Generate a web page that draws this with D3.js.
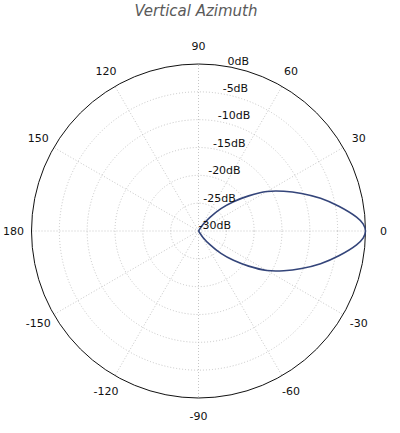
<!DOCTYPE html>
<html>
<head>
<meta charset="utf-8">
<script src="https://cdn.jsdelivr.net/npm/d3@7"></script>
<style>
  html, body { margin: 0; padding: 0; background: #fff; }
  svg text { font-family: "DejaVu Sans", sans-serif; }
</style>
</head>
<body>
<svg id="chart"></svg>
<script>
const [w, h] = [400, 433];
const [cx, cy, R] = [198.5, 231, 167];

// angles in degrees (counter-clockwise from 0), response in dB
const angles = [-180, -150, -120, -90, -60, -55, -50, -45, -40, -35, -30, -25, -20, -15, -10, -5, -2.5,
                0, 2.5, 5, 10, 15, 20, 25, 30, 35, 40, 45, 50, 55, 60, 90, 120, 150, 180];
const gain = [-30, -30, -30, -30, -30, -28.6, -26.8, -24.3, -21.8, -19.0, -15.8, -13.1, -10.3, -7.3, -4.4, -1.5, -0.4,
              0, -0.4, -1.5, -4.4, -7.3, -10.3, -13.1, -15.8, -19.0, -21.8, -24.3, -26.8, -28.6, -30, -30, -30, -30, -30];
const angleTicks = [0, 30, 60, 90, 120, 150, 180, -150, -120, -90, -60, -30];
const dbTicks = [0, -5, -10, -15, -20, -25, -30];
const title = 'Vertical Azimuth';

const svg = d3.select('#chart')
    .attr('width', w)
    .attr('height', h);

const rScale = d3.scaleLinear()
    .domain([-30, 0])
    .range([0, R]);

const rad = d => d * Math.PI / 180;

const g = svg.append('g')
    .attr('transform', `translate(${cx}, ${cy})`);

// grid rings
g.selectAll('circle.grid')
    .data(dbTicks.filter(d => d > -30 && d < 0))
    .enter()
    .append('circle')
        .attr('class', 'grid')
        .attr('r', d => rScale(d))
        .attr('fill', 'none')
        .attr('stroke', '#b8b8b8')
        .attr('stroke-width', 0.8)
        .attr('stroke-dasharray', '1,2');

// radial grid lines
g.selectAll('line.grid')
    .data(angleTicks)
    .enter()
    .append('line')
        .attr('x1', 0)
        .attr('y1', 0)
        .attr('x2', d => R * Math.cos(rad(d)))
        .attr('y2', d => -R * Math.sin(rad(d)))
        .attr('stroke', '#b8b8b8')
        .attr('stroke-width', 0.8)
        .attr('stroke-dasharray', '1,2');

// outer circle
g.append('circle')
    .attr('r', rScale(0))
    .attr('fill', 'none')
    .attr('stroke', '#111')
    .attr('stroke-width', 1);

// response curve
const line = d3.lineRadial()
    .angle(d => rad(90 - d[0]))
    .radius(d => rScale(d[1]))
    .curve(d3.curveCatmullRom);

g.append('path')
    .datum(d3.zip(angles, gain))
    .attr('d', line)
    .attr('fill', 'none')
    .attr('stroke', '#34457a')
    .attr('stroke-width', 1.6);

// angle labels
g.selectAll('text.ang')
    .data(angleTicks)
    .enter()
    .append('text')
        .attr('x', d => 185 * Math.cos(rad(d)))
        .attr('y', d => -185 * Math.sin(rad(d)))
        .attr('text-anchor', 'middle')
        .attr('dy', '0.35em')
        .attr('font-size', 11)
        .attr('fill', '#111')
        .text(d => d);

// dB labels
g.selectAll('text.db')
    .data(dbTicks)
    .enter()
    .append('text')
        .attr('x', d => rScale(d) * Math.cos(rad(80)))
        .attr('y', d => -rScale(d) * Math.sin(rad(80)) - 2)
        .attr('font-size', 11)
        .attr('fill', '#111')
        .text(d => d + 'dB');

svg.append('text')
    .attr('x', 196)
    .attr('y', 16)
    .attr('text-anchor', 'middle')
    .attr('font-family', 'Lato, "Open Sans", sans-serif')
    .attr('font-style', 'italic')
    .attr('font-size', 15)
    .attr('fill', '#5a5a5a')
    .text(title);
</script>
</body>
</html>
